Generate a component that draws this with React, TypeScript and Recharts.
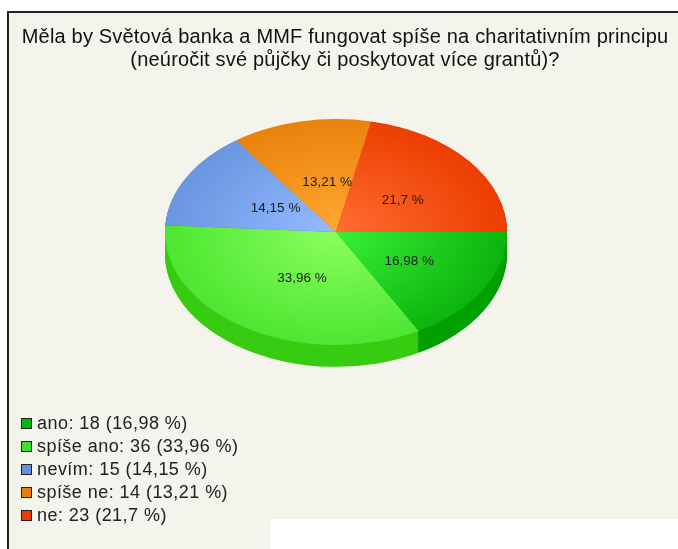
import { PieChart, Pie, Cell } from 'recharts';

const categories = ['ano', 'spíše ano', 'nevím', 'spíše ne', 'ne'];
const counts = [18, 36, 15, 14, 23];
const percentLabels = ['16,98', '33,96', '14,15', '13,21', '21,7'];
const innerColors = ['#38f038', '#8cff5c', '#94bcff', '#ffa832', '#ff6e32'];
const outerColors = ['#0cb40c', '#4ce632', '#6a96e0', '#ea820c', '#ec3e00'];
const sideColors = ['#00a000', '#38cc12', '#4a70b8', '#c06800', '#c03000'];
const legendColors = ['#0cb40c', '#44dc30', '#6490dc', '#e87c0a', '#e83c02'];
const titleLines = [
  'Měla by Světová banka a MMF fungovat spíše na charitativním principu',
  '(neúročit své půjčky či poskytovat více grantů)?',
];

const pieData = categories.map((name, i) => ({ name, value: counts[i], percent: percentLabels[i] }));

const FONT = "'Liberation Sans', Arial, sans-serif";
const SQUASH = 113 / 171;
const CX = 336;
const CY = 232 / SQUASH;
const RADIUS = 171;
const DEPTH_LAYERS = Array.from({ length: 33 }, (_, i) => 33 - i);

function renderPercent(props: any) {
  const { cx, cy, midAngle, outerRadius, payload } = props;
  const rad = (midAngle * Math.PI) / 180;
  const x = cx + outerRadius * 0.45 * Math.cos(rad) + 7;
  const y = cy - outerRadius * 0.47 * Math.sin(rad) + 1 / SQUASH;
  return (
    <text
      transform={`translate(${x} ${y}) scale(1 ${1 / SQUASH})`}
      textAnchor="middle"
      dominantBaseline="central"
      fontSize={13.5}
      fontFamily={FONT}
      fill="#1a1a1a"
    >
      {payload.percent} %
    </text>
  );
}

export default function App() {
  return (
    <div style={{ position: 'absolute', left: 0, top: 0, width: 678, height: 549, overflow: 'hidden', background: '#fff', filter: 'blur(0.4px)' }}>
      <div
        style={{
          position: 'absolute',
          left: 7,
          top: 11,
          width: 671,
          height: 538,
          background: '#f4f3ec',
          borderLeft: '2px solid #222',
          borderTop: '2px solid #222',
          boxSizing: 'border-box',
        }}
      />
      <div style={{ position: 'absolute', left: 270, top: 519, width: 408, height: 30, background: '#fff' }} />

      <div style={{ position: 'absolute', left: 0, top: 0, width: 678, height: 830, transform: `scaleY(${SQUASH})`, transformOrigin: 'top left' }}>
        <PieChart width={678} height={830} margin={{ top: 0, right: 0, bottom: 0, left: 0 }}>
          <defs>
            {categories.map((name, i) => (
              <radialGradient key={name} id={`slice${i}`} gradientUnits="userSpaceOnUse" cx={CX} cy={CY} r={RADIUS}>
                <stop offset="0%" stopColor={innerColors[i]} />
                <stop offset="100%" stopColor={outerColors[i]} />
              </radialGradient>
            ))}
          </defs>
          {DEPTH_LAYERS.map((layer) => (
            <Pie
              key={layer}
              data={pieData}
              dataKey="value"
              cx={CX}
              cy={CY + layer}
              outerRadius={RADIUS}
              startAngle={0}
              endAngle={-360}
              stroke="none"
              isAnimationActive={false}
            >
              {pieData.map((d, i) => (
                <Cell key={d.name} fill={sideColors[i]} />
              ))}
            </Pie>
          ))}
          <Pie
            data={pieData}
            dataKey="value"
            cx={CX}
            cy={CY}
            outerRadius={RADIUS}
            startAngle={0}
            endAngle={-360}
            stroke="none"
            label={renderPercent}
            labelLine={false}
            isAnimationActive={false}
          >
            {pieData.map((d, i) => (
              <Cell key={d.name} fill={`url(#slice${i})`} />
            ))}
          </Pie>
        </PieChart>
      </div>

      <div style={{ position: 'absolute', left: 0, top: 25, width: 690, textAlign: 'center', fontFamily: FONT, fontSize: 20, letterSpacing: 0.19, lineHeight: '23px', color: '#111', whiteSpace: 'nowrap' }}>
        {titleLines.map((line) => (
          <div key={line}>{line}</div>
        ))}
      </div>

      <div style={{ position: 'absolute', left: 21, top: 412, fontFamily: FONT, fontSize: 18, letterSpacing: 0.45, lineHeight: '23px', color: '#222' }}>
        {categories.map((name, i) => (
          <div key={name} style={{ display: 'flex', alignItems: 'center', whiteSpace: 'pre' }}>
            <span style={{ width: 9, height: 9, marginRight: 5, background: legendColors[i], border: '1px solid #222' }} />
            {name}: {counts[i]} ({percentLabels[i]} %)
          </div>
        ))}
      </div>
    </div>
  );
}
